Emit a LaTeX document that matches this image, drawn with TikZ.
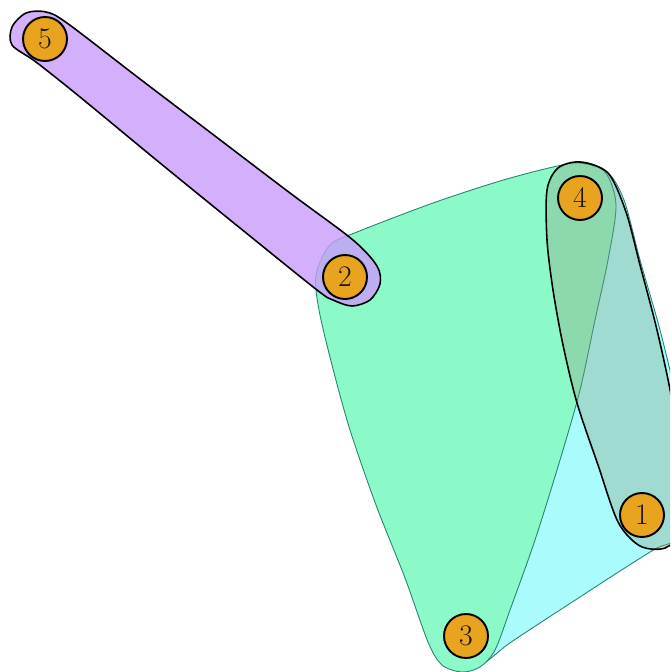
\documentclass[tikz,border=0pt]{standalone}
\usepackage{tikz}

\definecolor{mint}{RGB}{140,250,200}
\definecolor{aqua}{RGB}{170,252,252}
\definecolor{lilac}{RGB}{201,156,251}
\definecolor{slate}{RGB}{140,150,120}
\definecolor{tealline}{RGB}{40,130,115}
\definecolor{amber}{RGB}{233,164,31}

\begin{document}
\begin{tikzpicture}[
  x=0.02cm, y=-0.02cm,
  vertex/.style={circle, draw=black, line width=1.1pt, fill=amber, minimum size=0.88cm, inner sep=0pt, font=\fontsize{17}{17}\selectfont, text=black!85!brown},
  hedge/.style={draw=tealline, line width=0.5pt},
  pairedge/.style={draw=black, line width=0.9pt}
]
  \useasboundingbox (0,0) rectangle (670,672);
  \clip (0,0) rectangle (670,672);

  % hyperedge 1-3-4
  \filldraw[hedge, fill=aqua] plot[smooth cycle] coordinates {
    (578,163) (607,172) (624,200) (640,260) (660,330) (676,400) (684,480)
    (680,535) (655,549) (620,571) (580,597) (540,623) (507,645) (484,663)
    (462,668) (470,600) (505,450) (540,300) (560,200)};

  % hyperedge 2-3-4
  \filldraw[hedge, fill=mint] plot[smooth cycle] coordinates {
    (316,275) (330,245) (357,232) (433,203) (500,181) (553,167) (580,163)
    (605,172) (616,205) (608,260) (595,320) (580,390) (560,460) (535,540)
    (510,610) (495,650) (480,667) (462,672) (442,665) (428,642) (405,578)
    (376,505) (350,430) (332,365) (319,310)};

  % hyperedge 1-4
  \filldraw[pairedge, fill=slate, fill opacity=0.32] plot[smooth cycle] coordinates {
    (580,162) (558,168) (547,190) (547,240) (553,290) (563,345) (577,403)
    (598,465) (618,522) (640,546) (665,548) (680,530) (682,470) (672,400)
    (657,330) (640,265) (626,212) (608,173)};

  % hyperedge 2-5
  \filldraw[pairedge, fill=lilac, fill opacity=0.8] plot[smooth cycle] coordinates {
    (12,45) (12,27) (26,13) (46,12) (67,23) (140,79) (215,136) (290,193)
    (353,240) (377,266) (380,284) (370,300) (352,306) (333,300) (317,290)
    (240,228) (160,163) (80,97) (36,62)};

  \node[vertex] (v5) at (45,39) {5};
  \node[vertex] (v2) at (345,277) {2};
  \node[vertex] (v4) at (580,198) {4};
  \node[vertex] (v1) at (642,515) {1};
  \node[vertex] (v3) at (466,636) {3};
\end{tikzpicture}
\end{document}
